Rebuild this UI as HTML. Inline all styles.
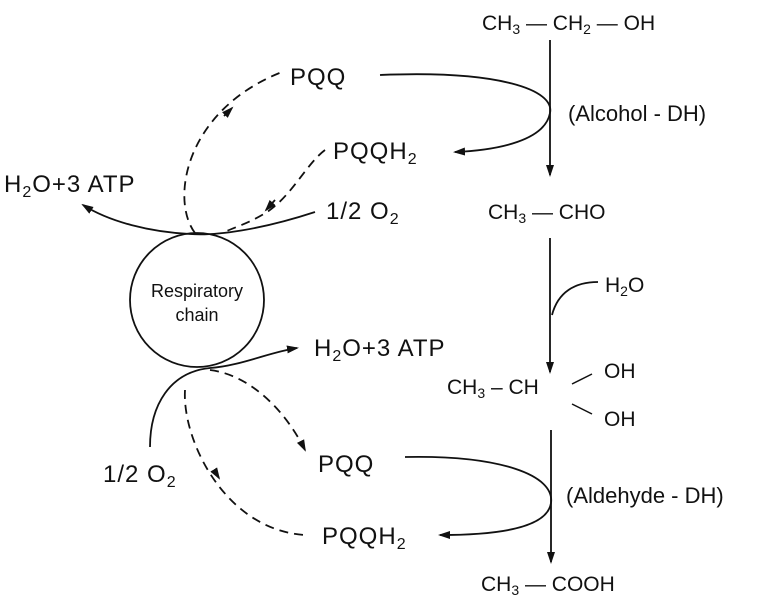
<!DOCTYPE html>
<html><head><style>
html,body{margin:0;padding:0;background:#fff;}
svg text{font-family:"Liberation Sans",sans-serif;fill:#111;}
</style></head><body>
<svg width="784" height="608" viewBox="0 0 784 608" xmlns="http://www.w3.org/2000/svg">
<defs>
<marker id="a" markerWidth="12" markerHeight="10" refX="10" refY="5" orient="auto" markerUnits="userSpaceOnUse">
<path d="M0,1 L12,5 L0,9 Z" fill="#111"/></marker>
</defs>
<g fill="none" stroke="#111" stroke-width="1.8">
<circle cx="197" cy="300" r="67"/>
<line x1="550" y1="40" x2="550" y2="175" marker-end="url(#a)"/>
<line x1="550" y1="238" x2="550" y2="372" marker-end="url(#a)"/>
<line x1="551" y1="430" x2="551" y2="562" marker-end="url(#a)"/>
<path d="M380,75 C500,70 555,90 550,113 C545,140 500,150 455,152" marker-end="url(#a)"/>
<path d="M598,282 C575,282 558,292 552,315"/>
<path d="M405,457 C500,455 555,475 551,503 C547,530 490,535 440,535" marker-end="url(#a)"/>
<path d="M315,212 C260,230 215,236 190,234 C150,232 110,222 83,205" marker-end="url(#a)"/>
<path d="M150,447 C150,405 170,372 210,368 C240,366 270,352 297,348" marker-end="url(#a)"/>
<g stroke-dasharray="9,6">
<path d="M195,233 C170,200 185,110 282,72" />
<path d="M325,150 C305,165 290,200 262,215 C245,225 232,228 225,232"/>
<path d="M210,370 C250,375 285,410 305,450" marker-end="url(#a)"/>
<path d="M185,390 C182,440 225,530 305,535"/>
</g>
<path d="M224,116 L232,108" marker-end="url(#a)"/>
<path d="M275,200 L266,210" marker-end="url(#a)"/>
<path d="M214,470 L219,478" marker-end="url(#a)"/>
<line x1="572" y1="384" x2="592" y2="374" stroke-width="1.5"/>
<line x1="572" y1="404" x2="592" y2="414" stroke-width="1.5"/>
</g>
<g font-size="21">
<text x="482" y="30">CH<tspan font-size="14" dy="4">3</tspan><tspan dy="-4"> — CH</tspan><tspan font-size="14" dy="4">2</tspan><tspan dy="-4"> — OH</tspan></text>
<text x="568" y="121" font-size="22">(Alcohol - DH)</text>
<text x="488" y="219">CH<tspan font-size="14" dy="4">3</tspan><tspan dy="-4"> — CHO</tspan></text>
<text x="605" y="292">H<tspan font-size="14" dy="4">2</tspan><tspan dy="-4">O</tspan></text>
<text x="447" y="394">CH<tspan font-size="14" dy="4">3</tspan><tspan dy="-4"> – CH</tspan></text>
<text x="604" y="378">OH</text>
<text x="604" y="426">OH</text>
<text x="566" y="503" font-size="22">(Aldehyde - DH)</text>
<text x="481" y="591">CH<tspan font-size="14" dy="4">3</tspan><tspan dy="-4"> — COOH</tspan></text>
</g>
<g font-size="24" letter-spacing="1">
<text x="290" y="85">PQQ</text>
<text x="333" y="159">PQQH<tspan font-size="16" dy="5">2</tspan></text>
<text x="326" y="219">1/2 O<tspan font-size="16" dy="5">2</tspan></text>
<text x="4" y="192">H<tspan font-size="16" dy="5">2</tspan><tspan dy="-5">O+3 ATP</tspan></text>
<text x="314" y="356">H<tspan font-size="16" dy="5">2</tspan><tspan dy="-5">O+3 ATP</tspan></text>
<text x="318" y="472">PQQ</text>
<text x="322" y="544">PQQH<tspan font-size="16" dy="5">2</tspan></text>
<text x="103" y="482">1/2 O<tspan font-size="16" dy="5">2</tspan></text>
</g>
<g font-size="18" text-anchor="middle">
<text x="197" y="297">Respiratory</text>
<text x="197" y="321">chain</text>
</g>
</svg>
</body></html>
